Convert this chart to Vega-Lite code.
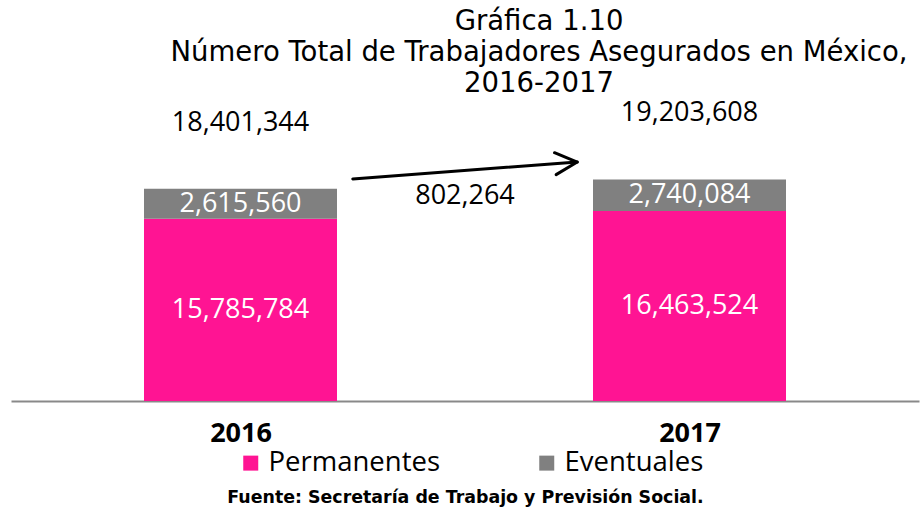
{
  "$schema": "https://vega.github.io/schema/vega-lite/v6.json",
  "autosize": {"type": "none"},
  "width": 908,
  "height": 300,
  "padding": {"left": 11, "top": 101, "right": 1, "bottom": 113},
  "background": "white",
  "config": {
    "view": {"stroke": null},
    "font": "Open Sans",
    "text": {"font": "Open Sans"}
  },
  "title": {
    "text": ["Gráfica 1.10", "Número Total de Trabajadores Asegurados en México,", "2016-2017"],
    "fontSize": 27.5,
    "fontWeight": "normal",
    "font": "DejaVu Sans",
    "color": "black",
    "anchor": "middle",
    "dx": 74,
    "lineHeight": 31,
    "offset": 2
  },
  "datasets": {
    "asegurados": [
      {"anio": 2016, "tipo": "Permanentes", "valor": 15785784},
      {"anio": 2016, "tipo": "Eventuales", "valor": 2615560},
      {"anio": 2017, "tipo": "Permanentes", "valor": 16463524},
      {"anio": 2017, "tipo": "Eventuales", "valor": 2740084}
    ],
    "anotacion": [
      {"desde": 2016.25, "hasta": 2016.75, "medio": 2016.5, "y_inicio": 19240000, "y_fin": 20710000, "y_texto": 17770000, "texto": "802,264"}
    ]
  },
  "layer": [
    {
      "data": {"name": "asegurados"},
      "mark": {"type": "bar", "width": 193},
      "encoding": {
        "x": {
          "field": "anio", "type": "quantitative",
          "scale": {"domain": [2015.5, 2017.5], "nice": false, "zero": false},
          "title": "Fuente: Secretaría de Trabajo y Previsión Social.",
          "axis": {
            "values": [2016, 2017], "format": "d",
            "labelFontSize": 27, "labelFontWeight": "bold", "labelColor": "black", "labelFont": "Open Sans",
            "domainColor": "#898989", "domainWidth": 2,
            "ticks": false, "grid": false, "labelPadding": 19,
            "titleFontSize": 17.4, "titleFontWeight": "bold", "titleColor": "black", "titleFont": "DejaVu Sans",
            "titlePadding": 42
          }
        },
        "y": {
          "field": "valor", "type": "quantitative", "stack": "zero",
          "scale": {"domain": [0, 26000000], "nice": false},
          "axis": null
        },
        "color": {
          "field": "tipo", "type": "nominal",
          "scale": {"domain": ["Permanentes", "Eventuales"], "range": ["#FF1493", "#808080"]},
          "legend": {
            "title": null, "orient": "none", "direction": "horizontal",
            "legendX": 226, "legendY": 348,
            "symbolType": "square", "symbolSize": 225, "symbolStrokeWidth": 0, "symbolOpacity": 1,
            "labelFontSize": 27.5, "labelColor": "black", "labelFont": "Open Sans",
            "labelOffset": 4, "columnPadding": 93, "labelLimit": 300
          }
        },
        "order": {"field": "tipo", "sort": "descending"}
      }
    },
    {
      "data": {"name": "asegurados"},
      "transform": [
        {"stack": "valor", "groupby": ["anio"], "sort": [{"field": "tipo", "order": "descending"}], "as": ["v0", "v1"]},
        {"calculate": "(datum.v0 + datum.v1) / 2", "as": "centro"}
      ],
      "mark": {"type": "text", "color": "white", "fontSize": 27, "baseline": "middle", "align": "center"},
      "encoding": {
        "x": {"field": "anio", "type": "quantitative", "title": "Fuente: Secretaría de Trabajo y Previsión Social."},
        "y": {"field": "centro", "type": "quantitative", "axis": null},
        "text": {"field": "valor", "type": "quantitative", "format": ","}
      }
    },
    {
      "data": {"name": "asegurados"},
      "transform": [
        {"aggregate": [{"op": "sum", "field": "valor", "as": "total"}], "groupby": ["anio"]}
      ],
      "mark": {"type": "text", "color": "black", "fontSize": 27, "baseline": "middle", "align": "center", "dy": -66},
      "encoding": {
        "x": {"field": "anio", "type": "quantitative", "title": "Fuente: Secretaría de Trabajo y Previsión Social."},
        "y": {"field": "total", "type": "quantitative", "axis": null},
        "text": {"field": "total", "type": "quantitative", "format": ","}
      }
    },
    {
      "data": {"name": "anotacion"},
      "mark": {"type": "rule", "color": "black", "strokeWidth": 3, "strokeCap": "round"},
      "encoding": {
        "x": {"field": "desde", "type": "quantitative", "title": "Fuente: Secretaría de Trabajo y Previsión Social."},
        "x2": {"field": "hasta"},
        "y": {"field": "y_inicio", "type": "quantitative", "axis": null},
        "y2": {"field": "y_fin"}
      }
    },
    {
      "data": {"name": "anotacion"},
      "mark": {"type": "point", "shape": "M-2,-1L0,0L-2,1", "size": 484, "filled": false, "stroke": "black", "strokeWidth": 3, "strokeJoin": "round", "strokeCap": "round", "opacity": 1, "angle": -4.3},
      "encoding": {
        "x": {"field": "hasta", "type": "quantitative", "title": "Fuente: Secretaría de Trabajo y Previsión Social."},
        "y": {"field": "y_fin", "type": "quantitative", "axis": null}
      }
    },
    {
      "data": {"name": "anotacion"},
      "mark": {"type": "text", "color": "black", "fontSize": 27, "baseline": "middle", "align": "center"},
      "encoding": {
        "x": {"field": "medio", "type": "quantitative", "title": "Fuente: Secretaría de Trabajo y Previsión Social."},
        "y": {"field": "y_texto", "type": "quantitative", "axis": null},
        "text": {"field": "texto", "type": "nominal"}
      }
    }
  ]
}
